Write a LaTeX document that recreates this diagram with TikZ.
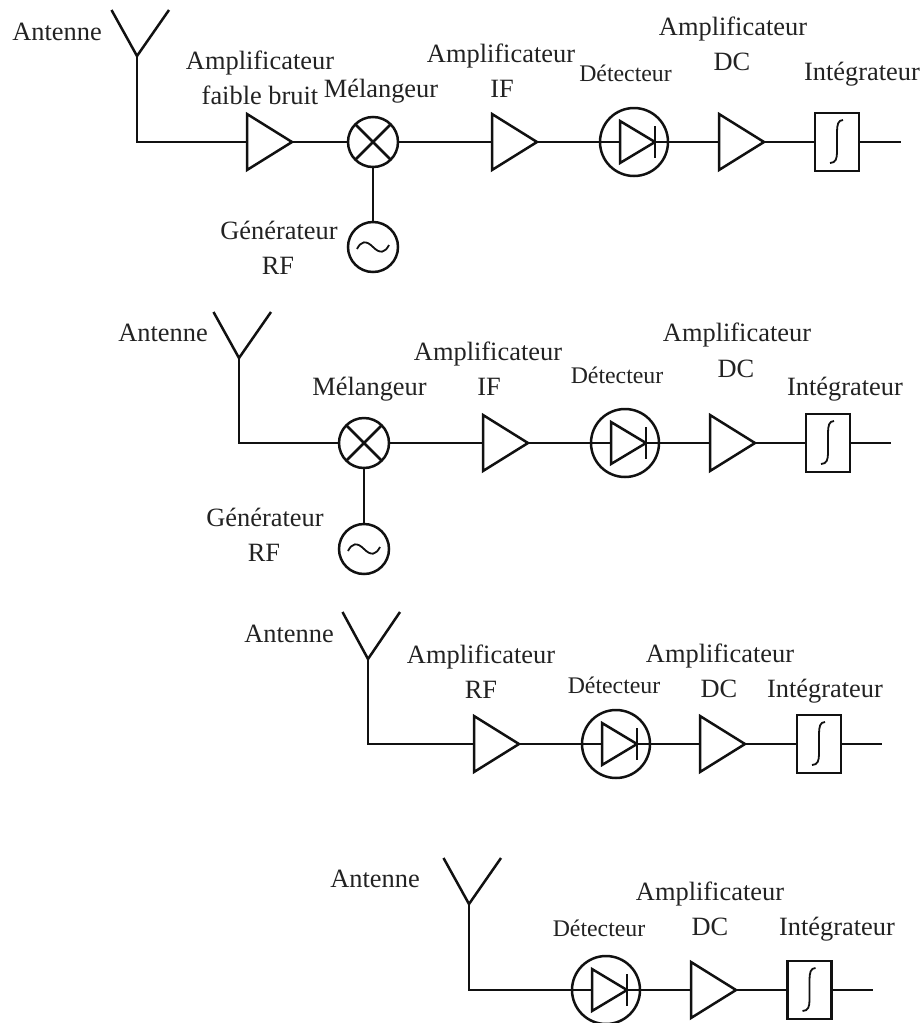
\documentclass[tikz,border=0pt]{standalone}
\usepackage{fontspec}
\setmainfont[Ligatures=NoCommon]{Liberation Serif}
\usetikzlibrary{shapes.geometric}
\definecolor{ink}{HTML}{111111}
\definecolor{txt}{HTML}{222222}
\tikzset{
  wire/.style={draw=ink,line width=2.5pt,line join=miter},
  thin wire/.style={draw=ink,line width=1.8pt},
  lab/.style={anchor=base,inner sep=0pt,text=txt,font=\fontsize{26.4}{30}\selectfont},
  slab/.style={anchor=base,inner sep=0pt,text=txt,font=\fontsize{23.8}{28}\selectfont},
  amp/.style={wire,isosceles triangle,isosceles triangle stretches,shape border rotate=0,
     minimum height=45pt,minimum width=56pt,inner sep=0pt,outer sep=0pt,anchor=lower side},
  diode/.style={wire,isosceles triangle,isosceles triangle stretches,shape border rotate=0,
     minimum height=35pt,minimum width=42pt,inner sep=0pt,outer sep=0pt,anchor=lower side},
  disc/.style={wire,circle,minimum size=50pt,inner sep=0pt,outer sep=0pt},
  det/.style={wire,circle,minimum size=68pt,inner sep=0pt,outer sep=0pt},
  intbox/.style={wire,rectangle,minimum width=44pt,minimum height=58pt,inner sep=0pt,outer sep=0pt}
}
% antenna: #1 name, #2 x, #3 fork y, #4 top y
\newcommand\Ant[4]{%
  \coordinate (#1) at (#2,#3);
  \coordinate (#1l) at (#2-25.5,#4);
  \coordinate (#1r) at (#2+32,#4);
  \draw[wire] (#1l) -- (#1) -- (#1r);}
% detector: #1 name, #2 centre x, #3 y
\newcommand\Det[3]{%
  \node[det] (#1) at (#2,#3) {};
  \node[diode] (#1d) at (#2-14,#3) {};
  \draw[thin wire,line width=2pt] ([yshift=16pt]#1d.apex) -- ([yshift=-16pt]#1d.apex);}
% integrator: #1 name, #2 centre x, #3 y
\newcommand\Intg[3]{%
  \node[intbox] (#1) at (#2,#3) {};
  \draw[thin wire] ([shift={(-7,21)}]#1.center) .. controls ([shift={(-1,21)}]#1.center) and ([shift={(0,16)}]#1.center) .. ([shift={(0,10)}]#1.center)
     -- ([shift={(0,-10)}]#1.center) .. controls ([shift={(0,-17)}]#1.center) and ([shift={(1,-22)}]#1.center) .. ([shift={(6,-22)}]#1.center);}
% mixer
\newcommand\Mix[3]{%
  \node[disc] (#1) at (#2,#3) {};
  \draw[wire] (#1.north west) -- (#1.south east) (#1.north east) -- (#1.south west);}
% generator
\newcommand\Gen[3]{%
  \node[disc] (#1) at (#2,#3) {};
  \draw[thin wire] ([shift={(-16,2)}]#1.center) .. controls ([shift={(-12,-6)}]#1.center) and ([shift={(-7,-7)}]#1.center) .. (#1.center)
     .. controls ([shift={(7,7)}]#1.center) and ([shift={(12,6)}]#1.center) .. ([shift={(16,-2)}]#1.center);}
\begin{document}
\begin{tikzpicture}[x=1pt,y=-1pt]
\useasboundingbox (0,0) rectangle (923,1023);
\clip (0,0) rectangle (923,1023);
% ---------- row 1
\Ant{a1}{137}{56}{10}
\node[amp] (l1) at (247,142) {};
\Mix{m1}{373}{142}
\Gen{g1}{373}{247}
\node[amp] (f1) at (492,142) {};
\Det{d1}{634}{142}
\node[amp] (c1) at (719,142) {};
\Intg{i1}{837}{142}
\coordinate (e1) at (901,142);
\draw[wire] (a1) |- (l1.lower side);
\draw[wire] (l1.apex) -- (m1);
\draw[wire] (m1) -- (g1);
\draw[wire] (m1) -- (f1.lower side);
\draw[wire] (f1.apex) -- (d1d.lower side);
\draw[wire] (d1d.apex) -- (c1.lower side);
\draw[wire] (c1.apex) -- (i1);
\draw[wire] (i1) -- (e1);
\node[lab] (t1a) at (57,40) {Antenne};
\node[lab] (t1b) at (260,69) {Amplificateur};
\node[lab] (t1c) at (260,104) {faible bruit};
\node[lab] (t1d) at (381,97) {Mélangeur};
\node[lab] (t1e) at (279,239) {Générateur};
\node[lab] (t1f) at (278,274) {RF};
\node[lab] (t1g) at (501,62) {Amplificateur};
\node[lab] (t1h) at (502,97) {IF};
\node[slab] (t1i) at (625.5,81) {Détecteur};
\node[lab] (t1j) at (733,35) {Amplificateur};
\node[lab] (t1k) at (732,70) {DC};
\node[lab] (t1l) at (862,80) {Intégrateur};
% ---------- row 2
\Ant{a2}{239}{358}{312}
\Mix{m2}{364}{443}
\Gen{g2}{364}{549}
\node[amp] (f2) at (483,443) {};
\Det{d2}{625}{443}
\node[amp] (c2) at (710,443) {};
\Intg{i2}{828}{443}
\coordinate (e2) at (891,443);
\draw[wire] (a2) |- (m2.west);
\draw[wire] (m2) -- (g2);
\draw[wire] (m2) -- (f2.lower side);
\draw[wire] (f2.apex) -- (d2d.lower side);
\draw[wire] (d2d.apex) -- (c2.lower side);
\draw[wire] (c2.apex) -- (i2);
\draw[wire] (i2) -- (e2);
\node[lab] (t2a) at (163,341) {Antenne};
\node[lab] (t2b) at (369.5,395) {Mélangeur};
\node[lab] (t2c) at (488,360) {Amplificateur};
\node[lab] (t2d) at (489,395) {IF};
\node[lab] (t2e) at (265,526) {Générateur};
\node[lab] (t2f) at (264,561) {RF};
\node[slab] (t2g) at (617,383) {Détecteur};
\node[lab] (t2h) at (737,341) {Amplificateur};
\node[lab] (t2i) at (736,377) {DC};
\node[lab] (t2j) at (845,395) {Intégrateur};
% ---------- row 3
\Ant{a3}{368}{659}{612}
\node[amp] (r3) at (474,744) {};
\Det{d3}{616}{744}
\node[amp] (c3) at (700,744) {};
\Intg{i3}{819}{744}
\coordinate (e3) at (882,744);
\draw[wire] (a3) |- (r3.lower side);
\draw[wire] (r3.apex) -- (d3d.lower side);
\draw[wire] (d3d.apex) -- (c3.lower side);
\draw[wire] (c3.apex) -- (i3);
\draw[wire] (i3) -- (e3);
\node[lab] (t3a) at (289,642) {Antenne};
\node[lab] (t3b) at (481,663) {Amplificateur};
\node[lab] (t3c) at (481,698) {RF};
\node[slab] (t3d) at (614,693) {Détecteur};
\node[lab] (t3e) at (720,662) {Amplificateur};
\node[lab] (t3f) at (719,697) {DC};
\node[lab] (t3g) at (825,697) {Intégrateur};
% ---------- row 4
\Ant{a4}{469}{904}{858}
\Det{d4}{606}{990}
\node[amp] (c4) at (691,990) {};
\Intg{i4}{809.5}{990}
\coordinate (e4) at (873,990);
\draw[wire] (a4) |- (d4d.lower side);
\draw[wire] (d4d.apex) -- (c4.lower side);
\draw[wire] (c4.apex) -- (i4);
\draw[wire] (i4) -- (e4);
\node[lab] (t4a) at (375,887) {Antenne};
\node[slab] (t4b) at (599,936) {Détecteur};
\node[lab] (t4c) at (710,900) {Amplificateur};
\node[lab] (t4d) at (710,935) {DC};
\node[lab] (t4e) at (837,935) {Intégrateur};
\end{tikzpicture}
\end{document}
